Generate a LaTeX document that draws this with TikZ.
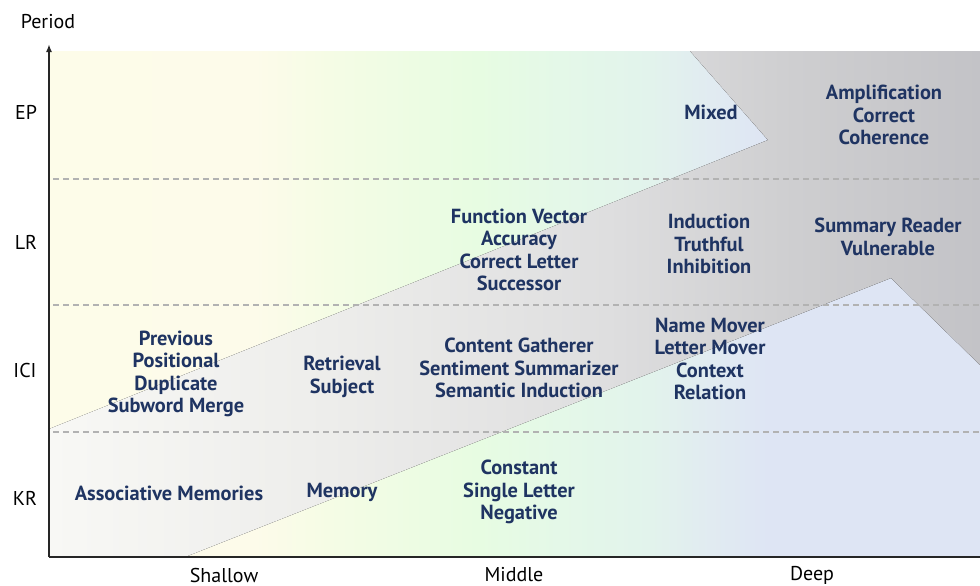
\documentclass[tikz,border=0pt]{standalone}
\usepackage{fontspec}
\setmainfont{PT Sans}
\usetikzlibrary{positioning,arrows.meta}
\definecolor{mechblue}{RGB}{31,52,98}
\definecolor{bgyellow}{RGB}{253,252,233}
\definecolor{bgcream}{RGB}{253,251,234}
\definecolor{bglime}{RGB}{245,252,229}
\definecolor{bggreen}{RGB}{231,252,226}
\definecolor{bgmint}{RGB}{228,248,232}
\definecolor{bgminttwo}{RGB}{226,243,236}
\definecolor{bgpale}{RGB}{225,235,241}
\definecolor{bgblue}{RGB}{222,229,244}
\definecolor{bandA}{RGB}{248,248,245}
\definecolor{bandB}{RGB}{237,237,235}
\definecolor{bandC}{RGB}{222,222,223}
\definecolor{bandD}{RGB}{206,206,208}
\definecolor{bandE}{RGB}{195,195,199}
\pgfdeclarehorizontalshading{depthbg}{100bp}{color(0bp)=(bgyellow); color(25bp)=(bgyellow);
 color(36bp)=(bgcream); color(40bp)=(bglime); color(48bp)=(bggreen); color(52.4bp)=(bgmint);
 color(57.3bp)=(bgminttwo); color(60.5bp)=(bgpale); color(63.7bp)=(bgblue); color(100bp)=(bgblue)}
\pgfdeclarehorizontalshading{greyband}{100bp}{color(0bp)=(bandA); color(25bp)=(bandA);
 color(40bp)=(bandB); color(55bp)=(bandC); color(65bp)=(bandD); color(75bp)=(bandE);
 color(100bp)=(bandE)}
\tikzstyle{mech}=[text=mechblue, font=\bfseries\fontsize{10.2}{11.25}\selectfont,
 align=center, inner sep=1pt]
\tikzstyle{axlabel}=[text=black, font=\fontsize{10}{11.25}\selectfont, inner sep=1pt]
\tikzstyle{rowsep}=[draw=black!30, dash pattern=on 3pt off 2pt, line width=0.6pt]
\tikzstyle{axisline}=[line width=0.8pt, draw=black!85]

\begin{document}
\begin{tikzpicture}[x=0.5pt, y=-0.5pt]
\useasboundingbox (0,0) rectangle (980,585);

% background and the depth band
\fill[shading=depthbg] (49,51) rectangle (980,557);
\fill[shading=greyband] (49,429) -- (768,140) -- (690,51) -- (980,51) -- (980,365)
 -- (891,278) -- (185,557) -- (49,557) -- cycle;

\draw[rowsep] (53,179) -- (980,179);
\draw[rowsep] (53,305) -- (980,305);
\draw[rowsep] (53,432) -- (980,432);

% axes
\coordinate (O) at (49,557);
\coordinate (YTOP) at (49,44);
\coordinate (XEND) at (980,557);
\draw[axisline] (O) -- (XEND);
\draw[axisline, -{Latex[length=4pt,width=3pt]}] (O) -- (YTOP);

\node (PERIOD) [axlabel] at (48,22) {Period};
\node (EP) [axlabel] at (26,112) {EP};
\node (LR) [axlabel] at (26,242) {LR};
\node (ICI) [axlabel] at (25,370) {ICI};
\node (KR) [axlabel] at (25,498) {KR};
\node (SHALLOW) [axlabel] at (224,575) {Shallow};
\node (MIDDLE) [axlabel] at (514,575) {Middle};
\node (DEEP) [axlabel] at (812,575) {Deep};

% EP
\node (MIXED) [mech] at (711,112) {Mixed};
\node (AMPL) [mech] at (884,115) {Amplification\\Correct\\Coherence};
% LR
\node (FUNVEC) [mech] at (519,250) {Function Vector\\Accuracy\\Correct Letter\\Successor};
\node (INDUCT) [mech] at (709,244) {Induction\\Truthful\\Inhibition};
\node (SUMREAD) [mech] at (888,237) {Summary Reader\\Vulnerable};
% ICI
\node (PREV) [mech] at (176,374) {Previous\\Positional\\Duplicate\\Subword Merge};
\node (RETR) [mech] at (342,377) {Retrieval\\Subject};
\node (CONTENT) [mech] at (519,368) {Content Gatherer\\Sentiment Summarizer\\Semantic Induction};
\node (NAMEMOV) [mech] at (710,359) {Name Mover\\Letter Mover\\Context\\Relation};
% KR
\node (ASSOC) [mech] at (169,493) {Associative Memories};
\node (MEMORY) [mech] at (342,492) {Memory};
\node (CONST) [mech] at (519,492) {Constant\\Single Letter\\Negative};

\end{tikzpicture}
\end{document}
